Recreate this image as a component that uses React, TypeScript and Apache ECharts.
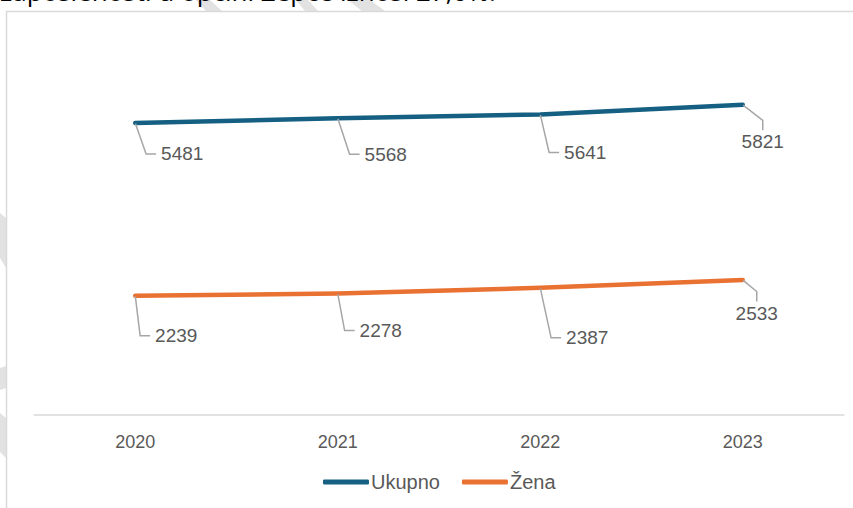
import React, { useEffect, useRef } from "react";
import * as echarts from "echarts";

const years = ["2020", "2021", "2022", "2023"];
const ukupno = [5481, 5568, 5641, 5821];
const zena = [2239, 2278, 2387, 2533];
const seriesNames = ["Ukupno", "Žena"];
const headingText = "zaposlenosti u općini Žepče iznosi 27,0%.";

// label offsets (dx, dy) relative to each point, per series
const labelOffsets = [
  [[47, 31], [48, 36], [45, 38], [20, 37]],
  [[41, 40], [43, 37], [47, 50], [14, 33]],
];

export default function App() {
  const ref = useRef<HTMLDivElement>(null);
  useEffect(() => {
    if (!ref.current) return;
    const chart = echarts.init(ref.current, null, { renderer: "svg" });
    const font = "Liberation Sans, Arial, sans-serif";
    const colors = ["#156082", "#E97132"];
    const mkSeries = (name: string, data: number[], idx: number) => ({
      name,
      type: "line",
      data,
      showSymbol: true,
      symbol: "circle",
      symbolSize: 1,
      lineStyle: { width: 4.5, color: colors[idx], cap: "round", join: "round" },
      itemStyle: { color: colors[idx] },
      label: {
        show: true,
        position: "inside",
        color: "#595959",
        fontFamily: font,
        fontSize: 19,
        padding: [2, 5, 2, 5],
        backgroundColor: "rgba(255,255,255,0)",
      },
      labelLine: {
        show: true,
        length2: 10,
        lineStyle: { color: "#a6a6a6", width: 1.5 },
      },
      labelLayout: (p: any) => {
        const o = labelOffsets[idx][p.dataIndex];
        return { dx: o[0], dy: o[1] };
      },
      emphasis: { disabled: true },
    });
    chart.setOption({
      animation: false,
      color: colors,
      grid: { left: 34, right: 9, top: 42, bottom: 93 },
      xAxis: {
        type: "category",
        data: years,
        boundaryGap: true,
        axisLine: { lineStyle: { color: "#d9d9d9", width: 1.5 } },
        axisTick: { show: false },
        axisLabel: { color: "#595959", fontFamily: font, fontSize: 18, margin: 18 },
      },
      yAxis: {
        type: "value",
        min: 0,
        max: 7000,
        show: false,
        splitLine: { show: false },
      },
      legend: {
        data: seriesNames,
        left: 318,
        top: 467,
        icon: "roundRect",
        itemWidth: 46,
        itemHeight: 5,
        itemGap: 22,
        textStyle: { color: "#595959", fontFamily: font, fontSize: 20, padding: [0, 0, 0, -3] },
      },
      graphic: [
        // faint watermark fragments outside the chart frame
        { type: "polygon", z: 0, silent: true, shape: { points: [[196, 0], [210, 0], [222, 11], [206, 11]] }, style: { fill: "#e2e2e2" } },
        { type: "polygon", z: 0, silent: true, shape: { points: [[296, 0], [308, 0], [318, 11], [305, 11]] }, style: { fill: "#e2e2e2" } },
        { type: "polygon", z: 0, silent: true, shape: { points: [[348, 0], [370, 0], [385, 11], [362, 11]] }, style: { fill: "#e2e2e2" } },
        { type: "polygon", z: 0, silent: true, shape: { points: [[0, 213], [6, 218], [6, 268], [0, 258]] }, style: { fill: "#e2e2e2" } },
        { type: "polygon", z: 0, silent: true, shape: { points: [[0, 368], [6, 366], [6, 388], [0, 390]] }, style: { fill: "#e2e2e2" } },
        { type: "polygon", z: 0, silent: true, shape: { points: [[0, 413], [6, 418], [6, 458], [0, 452]] }, style: { fill: "#e2e2e2" } },
        {
          type: "text",
          left: 0,
          top: -22,
          z: 1,
          silent: true,
          style: { text: headingText, fill: "#000", font: "26px 'Open Sans', sans-serif" },
        },
        {
          type: "rect",
          z: 1,
          silent: true,
          shape: { x: 6.5, y: 11.5, width: 900, height: 600 },
          style: { fill: "none", stroke: "#d9d9d9", lineWidth: 1.5 },
        },
      ],
      series: [mkSeries(seriesNames[0], ukupno, 0), mkSeries(seriesNames[1], zena, 1)],
    });
    return () => chart.dispose();
  }, []);
  return (
    <div
      ref={ref}
      style={{ position: "fixed", left: 0, top: 0, width: 853, height: 508, background: "#fff" }}
    />
  );
}
